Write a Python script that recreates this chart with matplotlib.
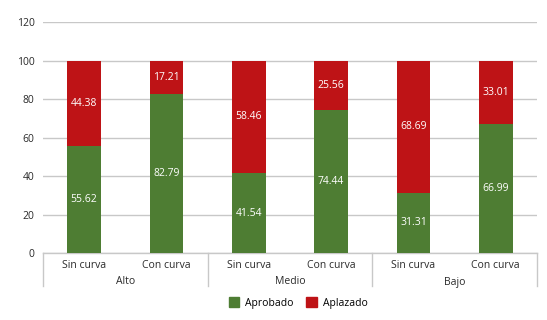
import matplotlib
matplotlib.use("Agg")
import matplotlib.pyplot as plt
import matplotlib.transforms as mtransforms
from matplotlib.patches import Patch
from matplotlib.lines import Line2D

plt.rcParams['font.family'] = ['Open Sans', 'DejaVu Sans']

groups = ["Alto", "Medio", "Bajo"]
subcats = ["Sin curva", "Con curva"]
aprobado = [55.62, 82.79, 41.54, 74.44, 31.31, 66.99]
aplazado = [44.38, 17.21, 58.46, 25.56, 68.69, 33.01]
yticks = [0, 20, 40, 60, 80, 100, 120]

green = "#4e7d33"
red = "#be1316"
grid_c = "#c8c8c8"
txt_c = "#2a2a2a"

fig = plt.figure(figsize=(5.47, 3.2), dpi=100)
ax = fig.add_axes([0.0786, 0.209, 0.903, 0.722])

n = len(aprobado)
x = list(range(n))
w = 0.41
ax.bar(x, aprobado, width=w, color=green, zorder=3)
ax.bar(x, aplazado, width=w, bottom=aprobado, color=red, zorder=3)

for i in range(n):
    ax.text(x[i], aprobado[i] / 2, f"{aprobado[i]:.2f}", ha="center", va="center",
            color="white", fontsize=7.5, zorder=4)
    ax.text(x[i], aprobado[i] + aplazado[i] / 2, f"{aplazado[i]:.2f}", ha="center",
            va="center", color="white", fontsize=7.5, zorder=4)

ax.set_xlim(-0.5, n - 0.5)
ax.set_ylim(0, 120)
ax.set_yticks(yticks)
ax.set_yticklabels([str(v) for v in yticks], fontsize=7.5, color=txt_c)
ax.tick_params(axis="y", length=0, pad=6)
ax.set_xticks([])
for s in ["top", "right", "left"]:
    ax.spines[s].set_visible(False)
ax.spines["bottom"].set_color(grid_c)
ax.spines["bottom"].set_linewidth(1.0)
ax.yaxis.grid(True, color=grid_c, linewidth=1.0, zorder=0)
ax.set_axisbelow(True)

trans = mtransforms.blended_transform_factory(ax.transData, fig.transFigure)
for i in range(n):
    ax.text(x[i], 1 - 266 / 320, subcats[i % 2], transform=trans, ha="center",
            va="center", fontsize=7.5, color=txt_c)
for g, name in enumerate(groups):
    ax.text(2 * g + 0.5, 1 - 282 / 320, name, transform=trans, ha="center",
            va="center", fontsize=7.5, color=txt_c)
for b in [-0.5, 1.5, 3.5, 5.5]:
    fig.add_artist(Line2D([b, b], [0.209, 1 - 286 / 320], transform=trans,
                          color=grid_c, linewidth=1.0))

handles = [Patch(color=green, label="Aprobado"), Patch(color=red, label="Aplazado")]
fig.legend(handles=handles, loc="center", bbox_to_anchor=(0.545, 1 - 303 / 320),
           ncol=2, frameon=False, fontsize=7.5, handlelength=1.0, handleheight=1.0,
           columnspacing=1.2, handletextpad=0.6)

fig.savefig("out.png", dpi=100)
